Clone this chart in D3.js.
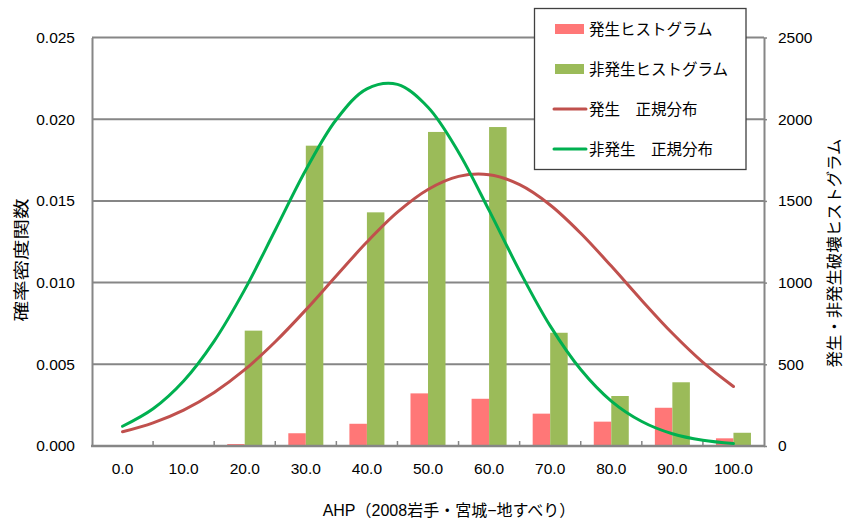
<!DOCTYPE html>
<html>
<head>
<meta charset="utf-8">
<script src="https://cdn.jsdelivr.net/npm/d3@7"></script>
<style>
  html, body { margin: 0; padding: 0; background: #fff; }
  svg { display: block; }
  text { font-family: "Liberation Sans", Arial, "Noto Sans CJK JP", sans-serif; fill: #000; }
</style>
</head>
<body>
<svg id="chart" width="850" height="523"></svg>
<script>
// AHP class labels on the x axis
const categories = ["0.0", "10.0", "20.0", "30.0", "40.0", "50.0", "60.0", "70.0", "80.0", "90.0", "100.0"];
// Histogram counts (right axis)
const occurCounts = [0, 0, 12, 78, 136, 322, 289, 198, 149, 234, 47];
const nonOccurCounts = [0, 0, 706, 1838, 1430, 1922, 1952, 693, 306, 390, 81];
// Normal density curves (left axis), sampled every 5 AHP points
const curveAhp = [0, 5, 10, 15, 20, 25, 30, 35, 40, 45, 50, 55, 60, 65, 70, 75, 80, 85, 90, 95, 100];
const occurNormal = [0.00087, 0.00142, 0.00220, 0.00328, 0.00467, 0.00638, 0.00833, 0.01042, 0.01248, 0.01431,
  0.01570, 0.01650, 0.01660, 0.01599, 0.01475, 0.01302, 0.01101, 0.00891, 0.00690, 0.00512, 0.00364];
const nonOccurNormal = [0.00121, 0.00228, 0.00398, 0.00642, 0.00957, 0.01322, 0.01689, 0.01998, 0.02186, 0.02213,
  0.02073, 0.01798, 0.01442, 0.01071, 0.00735, 0.00468, 0.00275, 0.00150, 0.00075, 0.00035, 0.00015];
// Axis ticks
const densityTicks = [0, 0.005, 0.010, 0.015, 0.020, 0.025];
const countTicks = [0, 500, 1000, 1500, 2000, 2500];

const legendItems = [
  { label: "発生ヒストグラム", kind: "bar", color: "#ff7777" },
  { label: "非発生ヒストグラム", kind: "bar", color: "#9bbb59" },
  { label: "発生\u3000正規分布", kind: "line", color: "#c0504d" },
  { label: "非発生\u3000正規分布", kind: "line", color: "#00b050" }
];

const svg = d3.select("#chart");
const plot = { left: 92, right: 764, top: 37.5, bottom: 446 };
const axisGray = "#868686";

const x0 = d3.scaleBand().domain(categories).range([plot.left, plot.right])
  .paddingInner(0.427).paddingOuter(0.2135);
const x1 = d3.scaleBand().domain(["occur", "non"]).range([0, x0.bandwidth()]);
const step = x0.step();
const xAhp = d3.scaleLinear().domain([0, 100])
  .range([plot.left + step / 2, plot.left + step * 10.5]);
const yDensity = d3.scaleLinear().domain([0, 0.025]).range([plot.bottom, plot.top]);
const yCount = d3.scaleLinear().domain([0, 2500]).range([plot.bottom, plot.top]);

// Horizontal gridlines
svg.append("g").selectAll("line").data(densityTicks.slice(1)).join("line")
  .attr("x1", plot.left).attr("x2", plot.right)
  .attr("y1", d => yDensity(d)).attr("y2", d => yDensity(d))
  .attr("stroke", axisGray).attr("stroke-width", 2);

// Histogram bars
const groups = svg.append("g").selectAll("g").data(categories).join("g")
  .attr("transform", d => `translate(${x0(d)},0)`);
groups.append("rect")
  .attr("x", x1("occur")).attr("width", x1.bandwidth())
  .attr("y", (d, i) => yCount(occurCounts[i]))
  .attr("height", (d, i) => plot.bottom - yCount(occurCounts[i]))
  .attr("fill", "#ff7777");
groups.append("rect")
  .attr("x", x1("non")).attr("width", x1.bandwidth())
  .attr("y", (d, i) => yCount(nonOccurCounts[i]))
  .attr("height", (d, i) => plot.bottom - yCount(nonOccurCounts[i]))
  .attr("fill", "#9bbb59");

// Left axis
const leftAxis = d3.axisLeft(yDensity).tickValues(densityTicks).tickFormat(d3.format(".3f"))
  .tickSize(0).tickPadding(17);
const gl = svg.append("g").attr("transform", `translate(${plot.left},0)`).call(leftAxis);
gl.select(".domain").attr("stroke", axisGray).attr("stroke-width", 2);
gl.selectAll("text").style("font-size", "15.5px").attr("fill", "#000");

// Right axis
const rightAxis = d3.axisRight(yCount).tickValues(countTicks).tickFormat(d3.format("d"))
  .tickSizeInner(3).tickSizeOuter(0).tickPadding(11);
const gr = svg.append("g").attr("transform", `translate(${plot.right},0)`).call(rightAxis);
gr.select(".domain").attr("stroke", axisGray).attr("stroke-width", 2);
gr.selectAll("line").attr("stroke", axisGray).attr("stroke-width", 1.5);
gr.selectAll("text").style("font-size", "15.5px").attr("fill", "#000");

// Bottom axis: labels under each class, small inward ticks between classes
const bottomAxis = d3.axisBottom(x0).tickSize(0).tickPadding(17);
const gb = svg.append("g").attr("transform", `translate(0,${plot.bottom})`).call(bottomAxis);
gb.select(".domain").remove();
gb.selectAll("text").style("font-size", "15.5px").attr("fill", "#000");
svg.append("g").selectAll("line").data(d3.range(1, categories.length)).join("line")
  .attr("x1", i => plot.left + i * step).attr("x2", i => plot.left + i * step)
  .attr("y1", plot.bottom).attr("y2", plot.bottom - 5)
  .attr("stroke", axisGray).attr("stroke-width", 1.5);
svg.append("line")
  .attr("x1", plot.left - 1).attr("x2", plot.right + 1)
  .attr("y1", plot.bottom).attr("y2", plot.bottom)
  .attr("stroke", axisGray).attr("stroke-width", 2.5);

// Normal distribution curves
const line = d3.line().x(d => xAhp(d[0])).y(d => yDensity(d[1])).curve(d3.curveCatmullRom);
svg.append("path").datum(curveAhp.map((a, i) => [a, occurNormal[i]]))
  .attr("d", line).attr("fill", "none").attr("stroke", "#c0504d")
  .attr("stroke-width", 3).attr("stroke-linecap", "round");
svg.append("path").datum(curveAhp.map((a, i) => [a, nonOccurNormal[i]]))
  .attr("d", line).attr("fill", "none").attr("stroke", "#00b050")
  .attr("stroke-width", 3).attr("stroke-linecap", "round");

// Axis titles
svg.append("text")
  .attr("transform", "translate(27,260) rotate(-90)")
  .attr("text-anchor", "middle")
  .attr("textLength", 123).attr("lengthAdjust", "spacingAndGlyphs")
  .style("font-size", "16px")
  .text("確率密度関数");
svg.append("text")
  .attr("transform", "translate(840,253) rotate(-90)")
  .attr("text-anchor", "middle")
  .style("font-size", "16.4px")
  .text("発生・非発生破壊ヒストグラム");
svg.append("text")
  .attr("x", 449).attr("y", 516)
  .attr("text-anchor", "middle")
  .style("font-size", "16px")
  .text("AHP（2008岩手・宮城−地すべり）");

// Legend
const legend = svg.append("g");
legend.append("rect")
  .attr("x", 534.5).attr("y", 8.5).attr("width", 211.5).attr("height", 161)
  .attr("fill", "#fff").attr("stroke", "#404040").attr("stroke-width", 1.3);
const rows = legend.selectAll("g").data(legendItems).join("g")
  .attr("transform", (d, i) => `translate(0,${29 + i * 40})`);
rows.filter(d => d.kind === "bar").append("rect")
  .attr("x", 555).attr("y", -5).attr("width", 29).attr("height", 10)
  .attr("fill", d => d.color);
rows.filter(d => d.kind === "line").append("line")
  .attr("x1", 554).attr("x2", 586).attr("y1", 0).attr("y2", 0)
  .attr("stroke", d => d.color).attr("stroke-width", 3).attr("stroke-linecap", "round");
rows.append("text")
  .attr("x", 589).attr("y", 0).attr("dy", "0.36em")
  .style("font-size", "15.5px")
  .text(d => d.label);
</script>
</body>
</html>
